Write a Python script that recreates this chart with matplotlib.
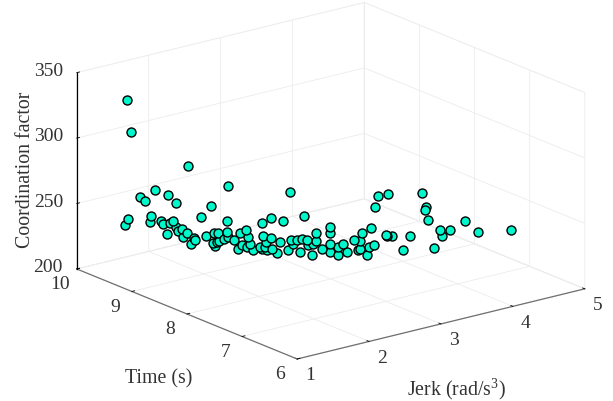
import matplotlib
matplotlib.use("Agg")
import matplotlib.pyplot as plt

plt.rcParams['font.family'] = ['Liberation Serif', 'DejaVu Serif']
plt.rcParams['mathtext.fontset'] = 'custom'
plt.rcParams['mathtext.rm'] = 'Liberation Serif'
plt.rcParams['grid.color'] = '#ececec'
plt.rcParams['grid.linewidth'] = 0.6

jerk_ticks = [1, 2, 3, 4, 5]
time_ticks = [6, 7, 8, 9, 10]
coord_ticks = [200, 250, 300, 350]

jerk = [1.21,1.22,1.22,1.24,1.28,1.30,1.33,1.33,1.35,1.38,1.39,1.41,1.41,1.42,1.43,1.45,1.45,1.46,1.48,1.48,
        1.50,1.50,1.52,1.53,1.54,1.57,1.60,1.63,1.64,1.65,1.66,1.67,1.68,1.68,1.71,1.73,1.73,1.74,1.74,1.78,
        1.80,1.82,1.83,1.85,1.86,1.87,1.88,1.90,1.96,1.97,1.97,1.98,2.00,2.00,2.01,2.04,2.04,2.05,2.09,2.11,
        2.14,2.18,2.19,2.20,2.21,2.24,2.27,2.28,2.30,2.32,2.33,2.36,2.37,2.39,2.39,2.44,2.50,2.50,2.50,2.50,
        2.56,2.57,2.60,2.63,2.70,2.73,2.75,2.75,2.77,2.81,2.84,2.85,2.88,2.89,2.92,2.99,3.00,3.01,3.05,3.16,
        3.23,3.36,3.39,3.41,3.43,3.49,3.55,3.58,3.66,3.82,3.97,4.32]
time = [9.40,9.38,9.36,9.32,9.21,9.16,9.10,9.09,9.04,8.97,8.94,8.90,8.88,8.85,8.82,8.79,8.78,8.76,8.72,8.70,
        8.66,8.64,8.61,8.57,8.55,8.48,8.43,8.39,8.37,8.36,8.35,8.33,8.32,8.31,8.26,8.23,8.23,8.22,8.22,8.16,
        8.12,8.10,8.08,8.04,8.03,8.02,8.00,7.98,7.92,7.91,7.90,7.90,7.88,7.87,7.86,7.84,7.83,7.82,7.78,7.76,
        7.74,7.70,7.68,7.67,7.66,7.63,7.60,7.59,7.57,7.54,7.54,7.51,7.50,7.48,7.47,7.42,7.37,7.36,7.36,7.36,
        7.30,7.30,7.26,7.23,7.18,7.16,7.14,7.14,7.13,7.10,7.09,7.08,7.06,7.05,7.03,6.99,6.98,6.98,6.95,6.89,
        6.86,6.82,6.80,6.80,6.79,6.77,6.74,6.73,6.70,6.64,6.59,6.46]
coord = [241,337,246,313,265,262,247,252,272,249,247,240,270,249,251,247,265,244,246,240,
         244,295,236,241,240,258,244,267,239,247,237,240,247,241,243,257,249,284,245,243,
         237,249,240,252,239,247,242,237,240,258,238,248,240,244,238,247,262,239,236,244,
         260,238,283,246,243,246,237,247,265,247,243,235,244,246,252,240,238,257,253,244,
         236,242,245,239,248,240,247,241,253,236,242,257,244,273,281,251,250,282,250,239,
         249,281,268,270,260,238,252,247,251,257,247,246]

W, H = 613, 401
fig = plt.figure(figsize=(W/100, H/100), dpi=100, facecolor='white')
S = 500
cx, cy = 324.0, 187.5
ax = fig.add_axes([(cx-S/2)/W, (H-cy-S/2)/H, S/W, S/H], projection='3d', proj_type='ortho')
ax.view_init(elev=18.4, azim=-127.7)
ax.set_box_aspect((363, 360, 206.6), zoom=1.072)
ax.patch.set_alpha(0)

ax.scatter(jerk, time, coord, s=42, c='#00F7CB', edgecolors='black', linewidths=1.0,
           depthshade=False, alpha=1)

ax.set_xlim(1, 5, view_margin=0)
ax.set_ylim(6, 10, view_margin=0)
ax.set_zlim(200, 350, view_margin=0)
ax.set_xticks(jerk_ticks)
ax.set_yticks(time_ticks)
ax.set_zticks(coord_ticks)

tc = '#333333'
for a in (ax.xaxis, ax.yaxis, ax.zaxis):
    a.pane.set_facecolor((1, 1, 1, 0))
    a.pane.set_edgecolor('#ececec')
    a.pane.set_linewidth(0.6)
    a._axinfo['tick']['inward_factor'] = 0.0
    a._axinfo['tick']['outward_factor'] = 0.12
    a._axinfo['tick']['linewidth'] = {True: 0.6, False: 0.4}
    a._axinfo['tick']['color'] = '#404040'
    a.line.set_linewidth(0.9)
ax.xaxis.line.set_color('#707070')
ax.yaxis.line.set_color('#707070')
ax.zaxis.line.set_color('black')
ax.tick_params(axis='x', labelsize=14, labelcolor=tc, pad=3)
ax.tick_params(axis='y', labelsize=14, labelcolor=tc, pad=3)
ax.tick_params(axis='z', labelsize=14, labelcolor=tc, pad=2.5)
for a in (ax.xaxis, ax.yaxis, ax.zaxis):
    for lab in a.get_majorticklabels():
        lab.set_verticalalignment('center')

fig.text(456/W, 1-389/H, 'Jerk (rad/s$^{3}$)', fontsize=14.3, color=tc, ha='center', va='center')
fig.text(159/W, 1-379/H, 'Time (s)', fontsize=14.3, color=tc, ha='center', va='center')
fig.text(26/W, 1-170/H, 'Coordination factor', fontsize=14.3, color=tc, ha='center', va='center', rotation=90)

fig.savefig('out.png', dpi=100)
